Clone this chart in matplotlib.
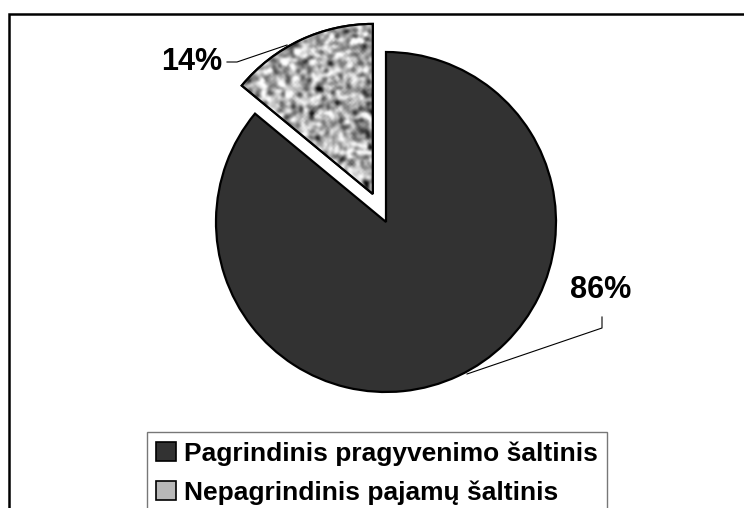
import numpy as np
import matplotlib.pyplot as plt
from matplotlib.patches import Patch, Rectangle, Wedge

plt.rcParams['font.family'] = ['Liberation Sans', 'DejaVu Sans']

labels = ["Pagrindinis pragyvenimo šaltinis", "Nepagrindinis pajamų šaltinis"]
shares = [86, 14]
pct_text = ["86%", "14%"]
colors = ["#323232", "#b8b8b8"]

W, H = 744, 508
fig = plt.figure(figsize=(W / 100, H / 100), dpi=100)
ax = fig.add_axes([0, 0, 1, 1])
ax.axis("off")

# outer frame, cut off on right and bottom like the source
fig.patches.append(Rectangle((9 / W, -0.2), 2, 1.2 - 14 / H, transform=fig.transFigure,
                             fill=False, edgecolor="black", linewidth=1.8, zorder=0))

# explode is in data units here (axes are in pixels)
wedges, _ = ax.pie(shares, colors=colors, startangle=90, counterclock=False,
                   explode=[0, 31], center=(386, 286), radius=170,
                   wedgeprops=dict(edgecolor="black", linewidth=1.6))
ax.set_xlim(0, W)
ax.set_ylim(0, H)
ax.set_aspect("equal")

# speckled texture on the small slice
small = wedges[1]
rng = np.random.default_rng(7)
noise = rng.normal(size=(110, 110))
for _ in range(2):
    noise = (noise + np.roll(noise, 1, 0) + np.roll(noise, -1, 0)
             + np.roll(noise, 1, 1) + np.roll(noise, -1, 1)) / 5
img = ax.imshow(noise, cmap="gray", vmin=-1.05, vmax=0.5, extent=(220, 420, 290, 490),
                interpolation="bicubic", zorder=2)
img.set_clip_path(small)
edge = Wedge(small.center, small.r, small.theta1, small.theta2, fill=False,
             edgecolor="black", linewidth=1.6, zorder=3)
ax.add_patch(edge)

# percentage labels with leader lines
ax.text(601, 218, pct_text[0], ha="center", va="center", fontsize=22, fontweight="bold")
ax.plot([602, 602, 467], [191, 180, 134], color="black", linewidth=0.8)
ax.text(192, 446, pct_text[1], ha="center", va="center", fontsize=22, fontweight="bold")
ax.plot([227, 237, 287], [446, 446, 463], color="black", linewidth=0.8)

handles = [Patch(facecolor=c, edgecolor="black", linewidth=1.2) for c in colors]
fig.legend(handles, labels, loc="upper left", bbox_to_anchor=(147 / W, 1 - 432 / H),
           prop=dict(size=19, weight="bold"), frameon=True, fancybox=False,
           edgecolor="#555555", handlelength=0.75, handleheight=0.75, handletextpad=0.3,
           labelspacing=0.55, borderpad=0.35, borderaxespad=0)

fig.savefig("out.png", dpi=100)
